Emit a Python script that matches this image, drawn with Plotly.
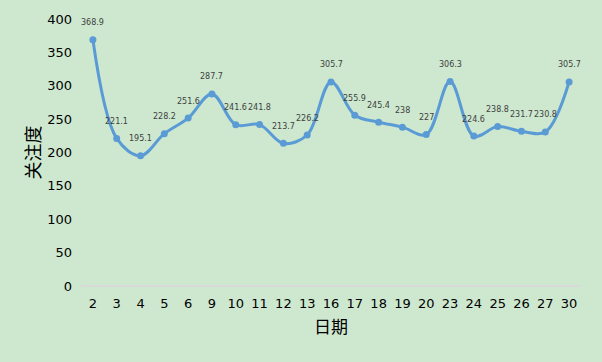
import plotly.graph_objects as go

dates = ["2", "3", "4", "5", "6", "9", "10", "11", "12", "13", "16", "17", "18", "19", "20",
         "23", "24", "25", "26", "27", "30"]
values = [368.9, 221.1, 195.1, 228.2, 251.6, 287.7, 241.6, 241.8, 213.7, 226.2, 305.7, 255.9,
          245.4, 238, 227, 306.3, 224.6, 238.8, 231.7, 230.8, 305.7]
labels = [("%g" % v) for v in values]

fig = go.Figure()
fig.add_trace(go.Scatter(
    x=dates, y=values, mode="lines+markers",
    line=dict(color="#5B9BD5", width=3, shape="spline", smoothing=1),
    marker=dict(color="#5B9BD5", size=7),
    cliponaxis=False, hoverinfo="skip"))

# category axis: annotation positions use the category index
for i, (v, t) in enumerate(zip(values, labels)):
    fig.add_annotation(x=i, y=v, text=t, showarrow=False, yshift=17,
                       font=dict(size=8, color="#404040", family="DejaVu Sans"))

fig.update_layout(
    width=602, height=362,
    margin=dict(l=81, r=21, t=19, b=76),
    paper_bgcolor="#CDE8CF", plot_bgcolor="#CDE8CF",
    showlegend=False,
    font=dict(family="DejaVu Sans", color="#000000"),
    xaxis=dict(type="category", range=[-0.5, len(dates) - 0.5], showgrid=False,
               showline=False, zeroline=False, ticks="", automargin=False,
               ticklabelstandoff=8,
               tickfont=dict(size=13, color="#000000"),
               title=dict(text="日期", font=dict(size=17, family="Noto Sans CJK SC"), standoff=11)),
    yaxis=dict(range=[0, 400], dtick=50, showgrid=False, showline=False,
               zeroline=True, zerolinecolor="#D9D9D9", zerolinewidth=1.5,
               automargin=False, ticklabelstandoff=8,
               tickfont=dict(size=13, color="#000000"), ticks="",
               title=dict(text="关注度", font=dict(size=18, family="Noto Sans CJK SC"), standoff=1)),
)
fig.write_html("out.html", config={"displayModeBar": False},
               post_script="document.body.style.margin='0';document.body.style.background='#CDE8CF';")
